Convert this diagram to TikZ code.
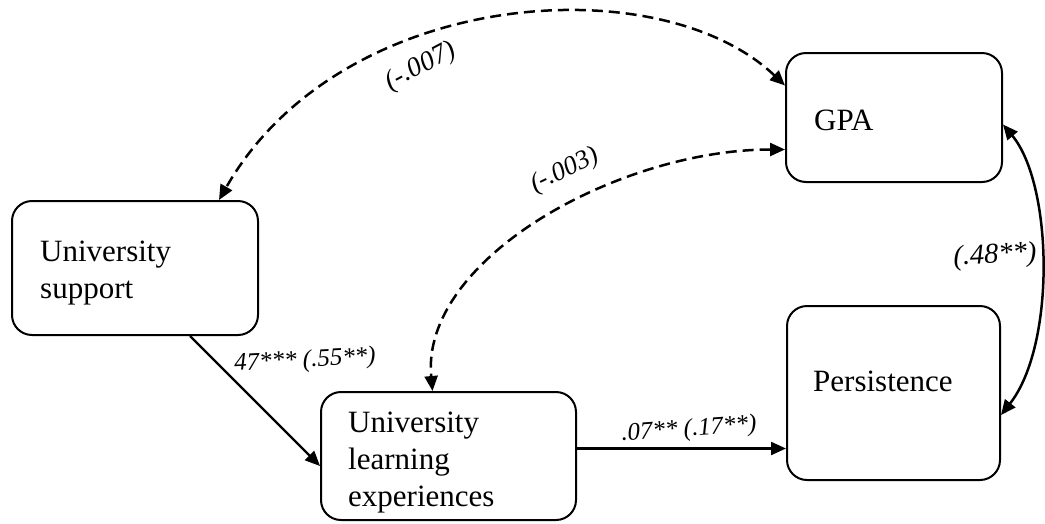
\documentclass[tikz,border=0pt]{standalone}
\usepackage{fontspec}
\setmainfont{Liberation Serif}
\usetikzlibrary{arrows.meta,calc}
\begin{document}
\begin{tikzpicture}[x=1pt,y=-1pt,
  box/.style={draw,line width=2pt,rounded corners=20pt,inner sep=0pt},
  boxtext/.style={anchor=base west,inner sep=0pt,align=left,font=\fontsize{31}{37}\selectfont},
  coef/.style={font=\fontsize{#1}{30}\selectfont\itshape,inner sep=0pt},
  coef/.default=25,
  regarrow/.style={line width=2.2pt,-{Triangle[length=15pt,width=13pt]}},
  covarrow/.style={line width=2.5pt,dash pattern=on 11pt off 6pt,
    {Triangle[length=15pt,width=13pt]}-{Triangle[length=15pt,width=13pt]}},
  corrarrow/.style={line width=2.5pt,
    {Triangle[length=15pt,width=13pt]}-{Triangle[length=15pt,width=13pt]}},
]
\useasboundingbox (0,0) rectangle (1045,523);

% variable boxes
\node[box,minimum width=246pt,minimum height=134pt] (us)  at (135,268)   {};
\node[box,minimum width=216pt,minimum height=129pt] (gpa) at (894,117.5) {};
\node[box,minimum width=213pt,minimum height=174pt] (per) at (893.5,393) {};
\node[box,minimum width=255pt,minimum height=128pt] (ule) at (448.5,456) {};

% box labels (anchored at the baseline of their last line)
\node[boxtext] (us-t)  at (40,298)  {University\\support};
\node[boxtext] (gpa-t) at (814,130) {GPA};
\node[boxtext] (ule-t) at (348,506) {University\\learning\\experiences};
\node[boxtext] (per-t) at (813,391) {Persistence};

% direct paths
\coordinate (ule-out) at ([yshift=7.5pt]ule.east);
\draw[regarrow] ([xshift=55pt]us.south) -- ([yshift=-10pt]ule.west);
\draw[regarrow] (ule-out) -- (ule-out -| per.west);

% correlations
\draw[covarrow] ([yshift=32pt]gpa.west) .. controls +(-126,-120) and +(121,-212) .. ([xshift=84pt]us.north);
\draw[covarrow] ([yshift=-32pt]gpa.west) .. controls +(-166,0) and +(-12,-132) .. ([xshift=-16pt]ule.north);
\draw[corrarrow] ([yshift=-7pt]gpa.east) .. controls +(50,60) and +(55,-70) .. ([yshift=-22pt]per.east);

% coefficients
\node[coef=27.5,rotate=28] (c1) at (421,67)  {(-.007)};
\node[coef=26.5,rotate=26] (c2) at (565,171) {(-.003)};
\node[coef=28.5,rotate=3]  (c3) at (995,256) {(.48**)};
\node[coef,rotate=3]       (c4) at (305,361) {47*** (.55**)};
\node[coef,rotate=4]       (c5) at (689,430) {.07** (.17**)};
\end{tikzpicture}
\end{document}
